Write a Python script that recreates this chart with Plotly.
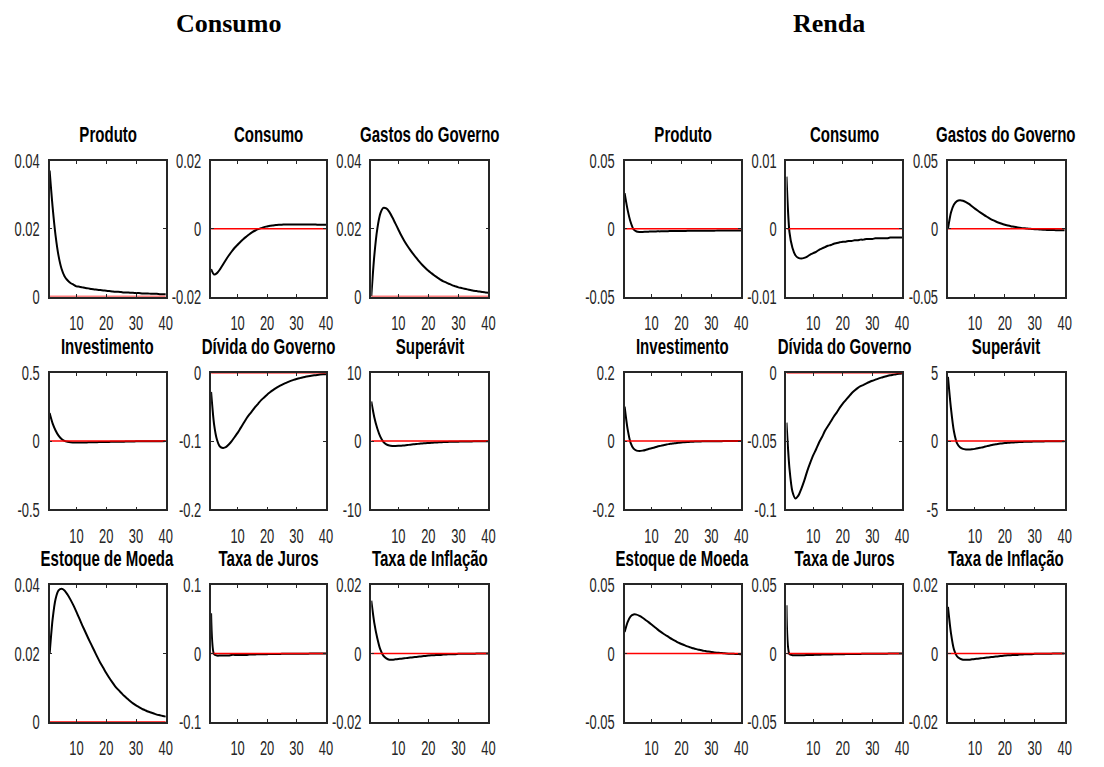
import plotly.graph_objects as go

# Horizon (quarters after the shock)
horizon = list(range(1, 41))

panel_titles = [
    "Produto", "Consumo", "Gastos do Governo",
    "Investimento", "Dívida do Governo", "Superávit",
    "Estoque de Moeda", "Taxa de Juros", "Taxa de Inflação",
]
group_titles = ["Consumo", "Renda"]

# ---- Responses to the consumption shock ----
cons_produto = [0.0372, 0.0265, 0.0180, 0.0120, 0.0082, 0.0060, 0.0048, 0.0040, 0.0035, 0.0030,
                0.0029, 0.0027, 0.0025, 0.0024, 0.0022, 0.0021, 0.0020, 0.0019, 0.0018, 0.0017,
                0.0016, 0.0015, 0.0014, 0.0014, 0.0013, 0.0012, 0.0012, 0.0011, 0.0011, 0.0010,
                0.0010, 0.0009, 0.0009, 0.0009, 0.0008, 0.0008, 0.0008, 0.0007, 0.0007, 0.0007]
cons_consumo = [-0.0119, -0.0135, -0.0131, -0.0120, -0.0106, -0.0092, -0.0079, -0.0067, -0.0056, -0.0047,
                -0.0038, -0.0030, -0.0023, -0.0016, -0.0010, -0.0005, -0.0001, 0.0002, 0.0005, 0.0007,
                0.0009, 0.0010, 0.0011, 0.0012, 0.0012, 0.0013, 0.0013, 0.0013, 0.0013, 0.0013,
                0.0013, 0.0013, 0.0013, 0.0013, 0.0013, 0.0013, 0.0012, 0.0012, 0.0012, 0.0012]
cons_gastos = [0.0, 0.0120, 0.0200, 0.0245, 0.0262, 0.0260, 0.0250, 0.0234, 0.0216, 0.0198,
               0.0180, 0.0164, 0.0150, 0.0137, 0.0125, 0.0114, 0.0103, 0.0093, 0.0084, 0.0076,
               0.0069, 0.0062, 0.0056, 0.0050, 0.0045, 0.0041, 0.0037, 0.0033, 0.0030, 0.0027,
               0.0025, 0.0023, 0.0021, 0.0019, 0.0017, 0.0016, 0.0015, 0.0013, 0.0012, 0.0011]
cons_invest = [0.206, 0.130, 0.078, 0.040, 0.016, 0.002, -0.005, -0.009, -0.010, -0.011,
               -0.011, -0.010, -0.010, -0.009, -0.009, -0.008, -0.008, -0.007, -0.007, -0.006,
               -0.006, -0.005, -0.005, -0.004, -0.004, -0.004, -0.003, -0.003, -0.003, -0.002,
               -0.002, -0.002, -0.002, -0.001, -0.001, -0.001, -0.001, -0.001, -0.001, 0.000]
cons_divida = [-0.028, -0.075, -0.098, -0.108, -0.110, -0.109, -0.105, -0.100, -0.094, -0.088,
               -0.081, -0.074, -0.067, -0.061, -0.0555, -0.050, -0.045, -0.040, -0.036, -0.032,
               -0.0285, -0.0253, -0.0224, -0.0198, -0.0175, -0.0154, -0.0135, -0.0118, -0.0103, -0.0090,
               -0.0078, -0.0067, -0.0058, -0.0050, -0.0043, -0.0037, -0.0031, -0.0026, -0.0022, -0.0019]
cons_superavit = [5.80, 3.50, 1.85, 0.65, -0.10, -0.48, -0.65, -0.71, -0.72, -0.70,
                  -0.67, -0.63, -0.58, -0.53, -0.48, -0.43, -0.39, -0.35, -0.31, -0.28,
                  -0.25, -0.22, -0.19, -0.17, -0.15, -0.13, -0.11, -0.10, -0.09, -0.08,
                  -0.07, -0.06, -0.05, -0.05, -0.04, -0.04, -0.03, -0.03, -0.02, -0.02]
cons_moeda = [0.0199, 0.0300, 0.0360, 0.0385, 0.0390, 0.0385, 0.0373, 0.0358, 0.0341, 0.0322,
              0.0302, 0.0282, 0.0263, 0.0244, 0.0226, 0.0208, 0.0190, 0.0173, 0.0158, 0.0143,
              0.0129, 0.0116, 0.0104, 0.0094, 0.0085, 0.0076, 0.0068, 0.0061, 0.0054, 0.0048,
              0.0043, 0.0038, 0.0034, 0.0030, 0.0027, 0.0024, 0.0021, 0.0019, 0.0017, 0.0015]
cons_juros = [0.059, -0.001, -0.003, -0.003, -0.003, -0.003, -0.003, -0.002, -0.002, -0.002,
              -0.002, -0.002, -0.002, -0.0015, -0.0015, -0.0013, -0.0012, -0.0011, -0.0010, -0.0009,
              -0.0008, -0.0007, -0.0006, -0.0006, -0.0005, -0.0005, -0.0004, -0.0004, -0.0003, -0.0003,
              -0.0003, -0.0002, -0.0002, -0.0002, -0.0001, -0.0001, -0.0001, -0.0001, 0.0, 0.0]
cons_inflacao = [0.0155, 0.0090, 0.0045, 0.0012, -0.0006, -0.0014, -0.0018, -0.0018, -0.0017, -0.0016,
                 -0.0015, -0.0014, -0.0013, -0.0012, -0.0011, -0.0010, -0.0009, -0.0008, -0.0007, -0.0006,
                 -0.0005, -0.0005, -0.0004, -0.0004, -0.0003, -0.0003, -0.0002, -0.0002, -0.0002, -0.0001,
                 -0.0001, -0.0001, -0.0001, -0.0001, -0.0001, 0.0, 0.0, 0.0, 0.0, 0.0]

# ---- Responses to the income shock ----
renda_produto = [0.0264, 0.0140, 0.0050, -0.0005, -0.0020, -0.0023, -0.0023, -0.0022, -0.0021, -0.0020,
                 -0.0020, -0.0019, -0.0019, -0.0018, -0.0018, -0.0017, -0.0017, -0.0017, -0.0016, -0.0016,
                 -0.0016, -0.0015, -0.0015, -0.0015, -0.0015, -0.0014, -0.0014, -0.0014, -0.0014, -0.0014,
                 -0.0014, -0.0013, -0.0013, -0.0013, -0.0013, -0.0013, -0.0013, -0.0013, -0.0013, -0.0013]
renda_consumo = [0.0077, -0.0005, -0.0028, -0.0039, -0.0043, -0.0044, -0.0043, -0.0041, -0.0038, -0.0036,
                 -0.0034, -0.0031, -0.0029, -0.0027, -0.0025, -0.0024, -0.0022, -0.0021, -0.0020, -0.0019,
                 -0.0019, -0.0018, -0.0018, -0.0017, -0.0017, -0.0016, -0.0016, -0.0015, -0.0015, -0.0015,
                 -0.0014, -0.0014, -0.0014, -0.0014, -0.0014, -0.0013, -0.0013, -0.0013, -0.0013, -0.0013]
renda_gastos = [0.0, 0.0120, 0.0180, 0.0205, 0.0211, 0.0207, 0.0197, 0.0184, 0.0166, 0.0149,
                0.0133, 0.0118, 0.0103, 0.0089, 0.0076, 0.0064, 0.0054, 0.0045, 0.0037, 0.0030,
                0.0024, 0.0019, 0.0015, 0.0011, 0.0008, 0.0005, 0.0003, 0.0001, -0.0001, -0.0003,
                -0.0004, -0.0006, -0.0007, -0.0008, -0.0009, -0.0009, -0.0010, -0.0010, -0.0011, -0.0011]
renda_invest = [0.101, 0.035, -0.005, -0.022, -0.028, -0.029, -0.028, -0.026, -0.023, -0.021,
                -0.019, -0.016, -0.014, -0.012, -0.010, -0.0085, -0.007, -0.006, -0.005, -0.004,
                -0.0032, -0.0026, -0.0021, -0.0017, -0.0013, -0.0010, -0.0008, -0.0006, -0.0005, -0.0004,
                -0.0003, -0.0002, -0.0002, -0.0001, -0.0001, 0.0, 0.0, 0.0, 0.0, 0.0]
renda_divida = [-0.0365, -0.0700, -0.0870, -0.0920, -0.0900, -0.0850, -0.0790, -0.0720, -0.0660, -0.0605,
                -0.0560, -0.0510, -0.0470, -0.0425, -0.0390, -0.0355, -0.0320, -0.0290, -0.0255, -0.0225,
                -0.0200, -0.0175, -0.0150, -0.0130, -0.0112, -0.0098, -0.0088, -0.0077, -0.0067, -0.0058,
                -0.0050, -0.0042, -0.0035, -0.0029, -0.0023, -0.0018, -0.0014, -0.0010, -0.0007, -0.0005]
renda_superavit = [4.71, 2.40, 0.70, -0.15, -0.45, -0.57, -0.61, -0.62, -0.60, -0.57,
                   -0.53, -0.48, -0.43, -0.37, -0.32, -0.27, -0.23, -0.20, -0.17, -0.145,
                   -0.125, -0.11, -0.095, -0.08, -0.07, -0.06, -0.05, -0.045, -0.04, -0.035,
                   -0.03, -0.026, -0.022, -0.019, -0.016, -0.013, -0.011, -0.009, -0.007, -0.005]
renda_moeda = [0.0157, 0.0230, 0.0272, 0.0286, 0.0285, 0.0275, 0.0262, 0.0246, 0.0230, 0.0213,
               0.0195, 0.0177, 0.0160, 0.0145, 0.0131, 0.0117, 0.0104, 0.0092, 0.0080, 0.0070,
               0.0061, 0.0052, 0.0045, 0.0038, 0.0032, 0.0027, 0.0022, 0.0018, 0.0014, 0.0011,
               0.0008, 0.0006, 0.0004, 0.0002, 0.0000, -0.0001, -0.0002, -0.0003, -0.0004, -0.0005]
renda_juros = [0.0353, -0.0005, -0.0012, -0.0013, -0.0013, -0.0012, -0.0012, -0.0011, -0.0010, -0.0010,
               -0.0009, -0.0009, -0.0008, -0.0008, -0.0007, -0.0007, -0.0006, -0.0006, -0.0005, -0.0005,
               -0.0004, -0.0004, -0.0004, -0.0003, -0.0003, -0.0003, -0.0002, -0.0002, -0.0002, -0.0002,
               -0.0001, -0.0001, -0.0001, -0.0001, -0.0001, 0.0, 0.0, 0.0, 0.0, 0.0]
renda_inflacao = [0.0137, 0.0060, 0.0012, -0.0008, -0.0015, -0.0018, -0.0018, -0.0018, -0.0017, -0.0016,
                  -0.0015, -0.0014, -0.0013, -0.0012, -0.0011, -0.0010, -0.0009, -0.0008, -0.0007, -0.0006,
                  -0.0005, -0.0005, -0.0004, -0.0004, -0.0003, -0.0003, -0.0002, -0.0002, -0.0002, -0.0001,
                  -0.0001, -0.0001, -0.0001, -0.0001, -0.0001, 0.0, 0.0, 0.0, 0.0, 0.0]

# Vertical limits of each panel (lower, upper)
cons_ylims = [(0, 0.04), (-0.02, 0.02), (0, 0.04),
              (-0.5, 0.5), (-0.2, 0), (-10, 10),
              (0, 0.04), (-0.1, 0.1), (-0.02, 0.02)]
renda_ylims = [(-0.05, 0.05), (-0.01, 0.01), (-0.05, 0.05),
               (-0.2, 0.2), (-0.1, 0), (-5, 5),
               (-0.05, 0.05), (-0.05, 0.05), (-0.02, 0.02)]
x_ticks = [10, 20, 30, 40]

cons_series = [cons_produto, cons_consumo, cons_gastos, cons_invest, cons_divida,
               cons_superavit, cons_moeda, cons_juros, cons_inflacao]
renda_series = [renda_produto, renda_consumo, renda_gastos, renda_invest, renda_divida,
                renda_superavit, renda_moeda, renda_juros, renda_inflacao]

W, H = 1104, 767
AXIS_COLOR = "#262626"
SANS = "Liberation Sans, Arial, sans-serif"
SERIF = "Liberation Serif, Times New Roman, serif"

# pixel frames of the 3x3 panel grids (left group, right group)
col_px = [[(44.3, 162.3), (208.3, 325.0), (371.0, 490.0)],
          [(628.3, 746.7), (792.7, 910.0), (956.7, 1075.3)]]
row_px = [(153.7, 293.3), (372.0, 512.7), (591.0, 731.7)]
group_title_x = [226, 836]


def fmt(v):
    v = round(v, 6) + 0.0
    return f"{v:g}"


fig = go.Figure()
layout = dict(
    width=W, height=H, margin=dict(l=0, r=0, t=0, b=0),
    paper_bgcolor="white", plot_bgcolor="white", showlegend=False,
    annotations=[],
)

idx = 0
for g, (series, ylims) in enumerate([(cons_series, cons_ylims), (renda_series, renda_ylims)]):
    for p in range(9):
        idx += 1
        r, c = divmod(p, 3)
        x0, x1 = col_px[g][c]
        y0, y1 = row_px[r]
        xa = "x" if idx == 1 else f"x{idx}"
        ya = "y" if idx == 1 else f"y{idx}"
        lo, hi = ylims[p]
        yt = [lo, (lo + hi) / 2, hi]

        fig.add_trace(go.Scatter(x=horizon, y=series[p], mode="lines",
                                 line=dict(color="black", width=2, shape="spline", smoothing=0.7),
                                 xaxis=xa, yaxis=ya, hoverinfo="skip"))
        fig.add_trace(go.Scatter(x=horizon, y=[0.0] * len(horizon), mode="lines",
                                 line=dict(color="#ff0000", width=1.5),
                                 xaxis=xa, yaxis=ya, hoverinfo="skip"))

        common = dict(showline=True, linecolor=AXIS_COLOR, linewidth=1.6, mirror="ticks",
                      ticks="inside", ticklen=3, tickwidth=1, tickcolor=AXIS_COLOR,
                      showgrid=False, zeroline=False,
                      tickfont=dict(family=SANS, size=20.5, color=AXIS_COLOR))
        layout["xaxis" + ("" if idx == 1 else str(idx))] = dict(
            common, domain=[x0 / W, x1 / W], range=[1, 40], anchor=ya,
            tickvals=x_ticks, ticktext=[str(v) for v in x_ticks], ticklabelstandoff=7)
        layout["yaxis" + ("" if idx == 1 else str(idx))] = dict(
            common, domain=[1 - y1 / H, 1 - y0 / H], range=[lo, hi], anchor=xa,
            tickvals=yt, ticktext=[fmt(v) for v in yt], ticklabelstandoff=4)

        layout["annotations"].append(dict(
            text=f"<b>{panel_titles[p]}</b>", x=(x0 + x1) / 2 / W, y=1 - y0 / H,
            xref="paper", yref="paper", xanchor="center", yanchor="middle", yshift=26,
            showarrow=False, font=dict(family=SANS, size=21.5, color="black")))

for g, title in enumerate(group_titles):
    layout["annotations"].append(dict(
        text=f"<b>{title}</b>", x=group_title_x[g] / W, y=1 - 12 / H,
        xref="paper", yref="paper", xanchor="center", yanchor="middle",
        showarrow=False, font=dict(family=SERIF, size=26, color="black")))

fig.update_layout(**layout)

# Narrow (condensed) rendering of the sans-serif labels: each label is squeezed
# horizontally about its own anchor point, so positions stay where Plotly put them.
# Re-applied after every redraw, since Plotly resets the label transforms.
condense_js = """
(function () {
  var gd = document.getElementById('{plot_id}');
  function squeeze(sel, k) {
    gd.querySelectorAll(sel).forEach(function (t) {
      var fam = (t.style.fontFamily || '');
      if (fam.indexOf('Serif') !== -1) return;
      var tr = t.getAttribute('transform') || '';
      if (tr.indexOf('scale(') !== -1) return;
      var x = parseFloat(t.getAttribute('x')) || 0;
      t.setAttribute('transform', tr + ' translate(' + x + ',0) scale(' + k + ',1) translate(' + (-x) + ',0)');
    });
  }
  function run() {
    squeeze('.xaxislayer-above text', 0.63);
    squeeze('.yaxislayer-above text', 0.63);
    squeeze('.annotation-text', 0.70);
  }
  run();
  if (gd.on) gd.on('plotly_afterplot', run);
  [0, 50, 200, 600, 1500].forEach(function (ms) { setTimeout(run, ms); });
})();
"""

fig.write_html("out.html", post_script=condense_js)
